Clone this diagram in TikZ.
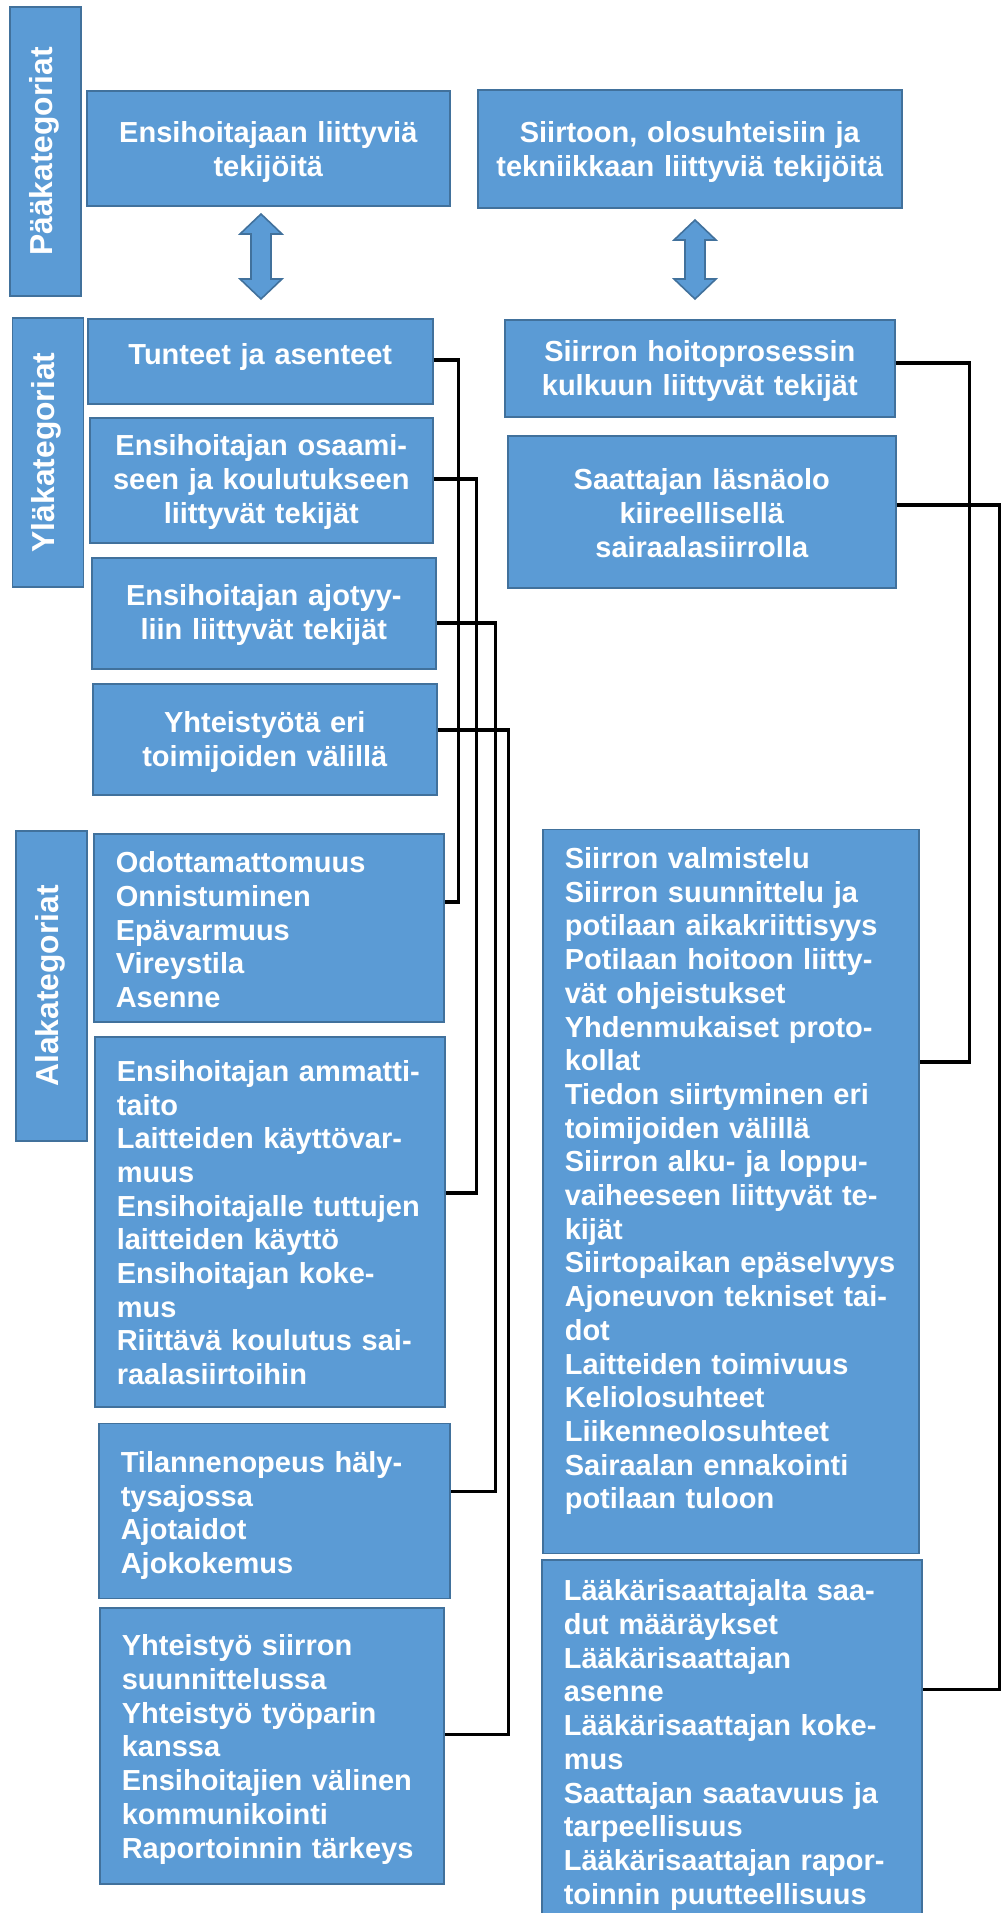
\documentclass[tikz,border=0pt]{standalone}
\usepackage{fontspec}
\setmainfont{Liberation Sans}
\definecolor{boxfill}{HTML}{5B9BD5}
\definecolor{boxline}{HTML}{41719C}
\tikzset{
  cat/.style={draw=boxline,fill=boxfill,line width=1.6pt,text=white,
    font=\bfseries\fontsize{29}{33.7}\selectfont,inner ysep=0pt,anchor=north west},
  mid/.style={cat,align=center,inner xsep=10pt},
  sub/.style={cat,align=left,inner xsep=22pt},
  side/.style={draw=boxline,fill=boxfill,line width=1.6pt,text=white,
    font=\bfseries\fontsize{31.8}{36}\selectfont,rotate=90,inner sep=0pt,
    text height=42pt,text depth=29pt},
  link/.style={line width=3.6pt,black},
  dbl/.style={draw=boxline,fill=boxfill,line width=1.6pt}
}
\begin{document}
\begin{tikzpicture}[x=1pt,y=-1pt]
  \useasboundingbox (0,0) rectangle (1003,1913);

  % level names
  \node[side,minimum width=289pt] (pk) at (45.5,151.5) {Pääkategoriat};
  \node[side,minimum width=269pt] (yk) at (48,452.5) {Yläkategoriat};
  \node[side,minimum width=310pt] (ak) at (51.5,986) {Alakategoriat};

  % main categories
  \node[mid,text width=343pt,text height=51.7pt,text depth=63.3pt] (ens) at (86,90)
    {Ensihoitajaan liittyviä\\tekijöitä};
  \node[mid,text width=404pt,text height=52.7pt,text depth=65.3pt] (sii) at (477,89)
    {Siirtoon, olosuhteisiin ja\\tekniikkaan liittyviä tekijöitä};

  \foreach \cx/\ta/\tb in {261/214/299, 695/220/299}
    \filldraw[dbl] (\cx,\ta) -- ++(21,20) -- ++(-11,0) -- (\cx+10,\tb-20) -- ++(11,0)
      -- (\cx,\tb) -- ++(-21,-20) -- ++(11,0) -- (\cx-10,\ta+20) -- ++(-11,0) -- cycle;

  % upper categories
  \node[mid,text width=325pt,text height=45.3pt,text depth=39.7pt] (tun) at (87,318)
    {Tunteet ja asenteet};
  \node[mid,text width=323pt,text height=38pt,text depth=87pt] (osa) at (89,417)
    {Ensihoitajan osaami-\\seen ja koulutukseen\\liittyvät tekijät};
  \node[mid,text width=324pt,text height=48pt,text depth=63pt] (ajo) at (91,557)
    {Ensihoitajan ajotyy-\\liin liittyvät tekijät};
  \node[mid,text width=324pt,text height=48.7pt,text depth=62.3pt] (yht) at (92,683)
    {Yhteistyötä eri\\toimijoiden välillä};
  \node[mid,text width=370pt,text height=42pt,text depth=55pt] (hoi) at (504,319)
    {Siirron hoitoprosessin\\kulkuun liittyvät tekijät};
  \node[mid,text width=368pt,text height=54pt,text depth=98pt] (saa) at (507,435)
    {Saattajan läsnäolo\\kiireellisellä\\sairaalasiirrolla};

  % sub categories
  \node[sub,text width=306pt,text height=39pt,text depth=149pt] (odo) at (93,833)
    {Odottamattomuus\\Onnistuminen\\Epävarmuus\\Vireystila\\Asenne};
  \node[sub,text width=306pt,text height=44.5pt,text depth=325.5pt] (amm) at (94,1036)
    {Ensihoitajan ammatti-\\taito\\Laitteiden käyttövar-\\muus\\Ensihoitajalle tuttujen\\
     laitteiden käyttö\\Ensihoitajan koke-\\mus\\Riittävä koulutus sai-\\raalasiirtoihin};
  \node[sub,text width=307pt,text height=49pt,text depth=126pt] (til) at (98,1422.5)
    {Tilannenopeus häly-\\tysajossa\\Ajotaidot\\Ajokokemus};
  \node[sub,text width=300pt,text height=48pt,text depth=228pt] (yhy) at (99,1607)
    {Yhteistyö siirron\\suunnittelussa\\Yhteistyö työparin\\kanssa\\
     Ensihoitajien välinen\\kommunikointi\\Raportoinnin tärkeys};
  \node[sub,text width=332pt,text height=39pt,text depth=685pt] (val) at (542,828.7)
    {Siirron valmistelu\\Siirron suunnittelu ja\\potilaan aikakriittisyys\\
     Potilaan hoitoon liitty-\\vät ohjeistukset\\Yhdenmukaiset proto-\\kollat\\
     Tiedon siirtyminen eri\\toimijoiden välillä\\Siirron alku- ja loppu-\\
     vaiheeseen liittyvät te-\\kijät\\Siirtopaikan epäselvyys\\
     Ajoneuvon tekniset tai-\\dot\\Laitteiden toimivuus\\Keliolosuhteet\\
     Liikenneolosuhteet\\Sairaalan ennakointi\\potilaan tuloon};
  \node[sub,text width=336pt,text height=41pt,text depth=316pt] (laa) at (541,1559)
    {Lääkärisaattajalta saa-\\dut määräykset\\Lääkärisaattajan\\asenne\\
     Lääkärisaattajan koke-\\mus\\Saattajan saatavuus ja\\tarpeellisuus\\
     Lääkärisaattajan rapor-\\toinnin puutteellisuus};

  % connectors
  \draw[link] ([yshift=1.5pt]tun.east) -- ++(25,0) |- ([yshift=26pt]odo.east);
  \draw[link] ([yshift=1.5pt]osa.east) -- ++(43,0) |- ([yshift=29pt]amm.east);
  \draw[link] ([yshift=-9.5pt]ajo.east) -- ++(59,0) |- ([yshift=19.5pt]til.east);
  \draw[link] ([yshift=9.5pt]yht.east) -- ++(71,0) |- ([yshift=11.5pt]yhy.east);
  \draw[link] ([yshift=5.5pt]hoi.east) -- ++(74,0) |- ([yshift=129.7pt]val.east);
  \draw[link] ([yshift=7pt]saa.east) -- ++(103,0) |- ([yshift=49pt]laa.east);
\end{tikzpicture}
\end{document}
